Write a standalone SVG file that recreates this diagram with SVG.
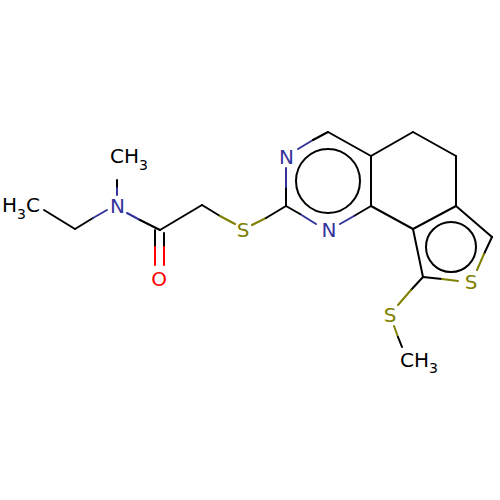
<svg xmlns="http://www.w3.org/2000/svg" width="500" height="500" viewBox="0 0 500 500">
<style>
.b{stroke:#000;stroke-width:2;fill:none;stroke-linecap:round}
.n{stroke:#33339a;stroke-width:2;fill:none;stroke-linecap:round}
.s{stroke:#7f7f00;stroke-width:2;fill:none;stroke-linecap:round}
.o{stroke:#ff0000;stroke-width:2;fill:none;stroke-linecap:round}
text{font-family:"DejaVu Sans",sans-serif;font-size:20px}
.tn{fill:#33339a}.ts{fill:#7f7f00}.to{fill:#ff0000}.tc{fill:#000}
.sub{font-size:14px}
</style>
<rect width="500" height="500" fill="#fff"/>
<g id="bonds">
<line class="b" x1="44" y1="210" x2="75" y2="229"/>
<line class="b" x1="75" y1="229" x2="93" y2="218"/>
<line class="n" x1="93" y1="218" x2="107" y2="210"/>
<line class="b" x1="117" y1="180" x2="117" y2="188"/>
<line class="n" x1="117" y1="188" x2="117" y2="195"/>
<line class="n" x1="127" y1="213" x2="140" y2="220"/>
<line class="b" x1="140" y1="220" x2="160" y2="230"/>
<line class="b" x1="155" y1="230" x2="155" y2="247"/>
<line class="o" x1="155" y1="247" x2="155" y2="265"/>
<line class="b" x1="164" y1="233" x2="164" y2="247"/>
<line class="o" x1="164" y1="247" x2="164" y2="265"/>
<line class="b" x1="160" y1="230" x2="202" y2="205"/>
<line class="b" x1="202" y1="205" x2="220" y2="216"/>
<line class="s" x1="220" y1="216" x2="235" y2="224"/>
<line class="s" x1="252" y1="225" x2="266" y2="218"/>
<line class="b" x1="266" y1="218" x2="286" y2="206"/>
<line class="b" x1="286" y1="206" x2="286" y2="187"/>
<line class="n" x1="286" y1="187" x2="286" y2="168"/>
<line class="n" x1="298" y1="149" x2="313" y2="140"/>
<line class="b" x1="313" y1="140" x2="328" y2="132"/>
<line class="b" x1="328" y1="132" x2="371" y2="156"/>
<line class="b" x1="371" y1="156" x2="371" y2="206"/>
<line class="b" x1="371" y1="206" x2="354" y2="216"/>
<line class="n" x1="354" y1="216" x2="340" y2="224"/>
<line class="n" x1="316" y1="224" x2="300" y2="214"/>
<line class="b" x1="300" y1="214" x2="286" y2="206"/>
<line class="b" x1="371" y1="156" x2="413" y2="132"/>
<line class="b" x1="413" y1="132" x2="456" y2="156"/>
<line class="b" x1="456" y1="156" x2="456" y2="206"/>
<line class="b" x1="371" y1="206" x2="413" y2="229"/>
<line class="b" x1="413" y1="229" x2="456" y2="206"/>
<line class="b" x1="456" y1="206" x2="492" y2="237"/>
<line class="b" x1="492" y1="237" x2="484" y2="254"/>
<line class="s" x1="484" y1="254" x2="477" y2="270"/>
<line class="b" x1="423" y1="277" x2="442" y2="279"/>
<line class="s" x1="442" y1="279" x2="458" y2="281"/>
<line class="b" x1="423" y1="277" x2="413" y2="229"/>
<line class="b" x1="423" y1="277" x2="411" y2="290"/>
<line class="s" x1="411" y1="290" x2="398" y2="305"/>
<line class="s" x1="394" y1="326" x2="398" y2="337"/>
<line class="b" x1="398" y1="337" x2="402" y2="347"/>
<circle class="b" cx="328" cy="181" r="32"/>
<circle class="b" cx="451" cy="247" r="25"/>
</g>
<g id="atoms">
<g id="ch3a"><text class="tc" x="2" y="212">H<tspan class="sub" dy="7">3</tspan><tspan dy="-7">C</tspan></text></g>
<g id="n_amide"><text class="tn" x="117.5" y="213" text-anchor="middle">N</text></g>
<g id="ch3b"><text class="tc" x="110" y="163">CH<tspan class="sub" dy="7">3</tspan></text></g>
<g id="o"><text class="to" x="159" y="286" text-anchor="middle">O</text></g>
<g id="s1"><text class="ts" x="243" y="237" text-anchor="middle">S</text></g>
<g id="n3"><text class="tn" x="286.5" y="164" text-anchor="middle">N</text></g>
<g id="n1"><text class="tn" x="329" y="237" text-anchor="middle">N</text></g>
<g id="s_th"><text class="ts" x="471" y="289" text-anchor="middle">S</text></g>
<g id="s2"><text class="ts" x="390" y="322" text-anchor="middle">S</text></g>
<g id="ch3c"><text class="tc" x="400" y="367">CH<tspan class="sub" dy="6">3</tspan></text></g>
</g>
</svg>
